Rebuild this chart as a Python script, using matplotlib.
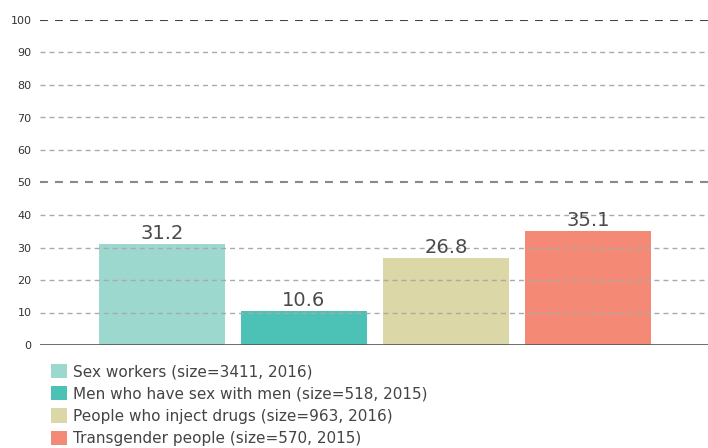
import matplotlib
matplotlib.use("Agg")
import matplotlib.pyplot as plt
from matplotlib.patches import Patch

groups = ["Sex workers (size=3411, 2016)",
          "Men who have sex with men (size=518, 2015)",
          "People who inject drugs (size=963, 2016)",
          "Transgender people (size=570, 2015)"]
values = [31.2, 10.6, 26.8, 35.1]
colors = ["#9dd8cf", "#4cc2b6", "#dbd7a6", "#f48a76"]

fig = plt.figure(figsize=(7.08, 4.48), dpi=100)
ax = fig.add_axes([40 / 708, 1 - 345 / 448, 668 / 708, 325 / 448])

xs = list(range(len(values)))
ax.bar(xs, values, width=0.887, color=colors, zorder=1)
for x, v in zip(xs, values):
    ax.text(x, v + 0.2, "{:.1f}".format(v), ha="center", va="bottom",
            fontsize=14, color="#4a4a4a", zorder=3)

# grid: 50 and 100 drawn heavier
for y in range(10, 101, 10):
    if y == 100:
        ax.axhline(y, color="#444444", lw=1.5, ls=(0, (3.8, 3.4)), zorder=2)
    elif y == 50:
        ax.axhline(y, color="#888888", lw=1.5, ls=(0, (3.8, 3.4)), zorder=2)
    else:
        ax.axhline(y, color="#aaaaaa", lw=1.0, ls=(0, (3.6, 2.9)), zorder=2)
ax.axhline(0, color="#555555", lw=1.2, zorder=2)

ax.set_xlim(-0.859, 3.845)
ax.set_ylim(0, 100)
ax.set_yticks(range(0, 101, 10))
ax.set_xticks([])
ax.tick_params(axis="y", length=0, labelsize=8, labelcolor="#333333", pad=6)
for s in ax.spines.values():
    s.set_visible(False)

handles = [Patch(facecolor=c) for c in colors]
fig.legend(handles, groups, loc="upper left", bbox_to_anchor=(51 / 708, 1 - 364 / 448),
           frameon=False, fontsize=11, labelcolor="#444444", handlelength=1.05,
           handleheight=1.05, handletextpad=0.4, labelspacing=0.45, borderpad=0,
           borderaxespad=0)

fig.savefig("out.png", dpi=100)
